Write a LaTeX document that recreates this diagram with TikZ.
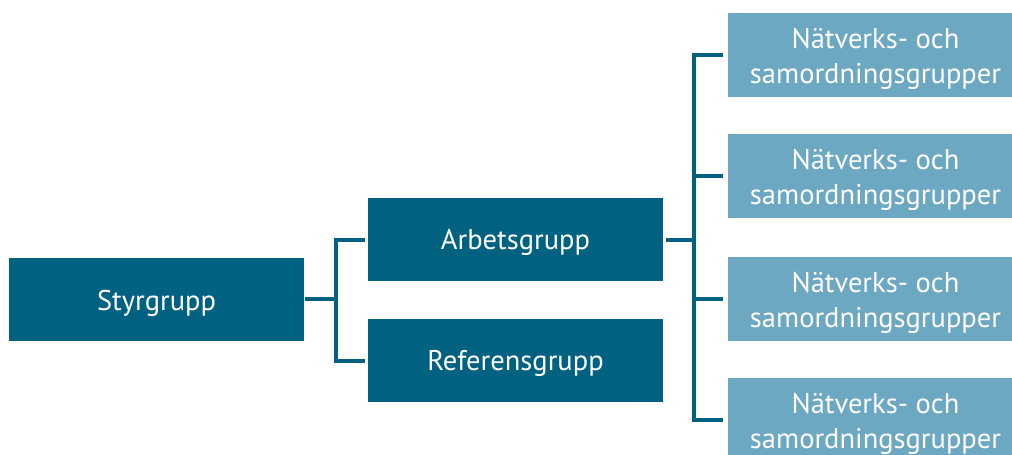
\documentclass[tikz,border=0pt]{standalone}
\usepackage{fontspec}
\setmainfont{PT Sans}
\definecolor{darkteal}{RGB}{0,97,128}
\definecolor{lightteal}{RGB}{108,168,194}
\newcommand{\lowered}[2]{\raisebox{-#1}[\height][\depth]{#2}}
\newcommand{\twoline}[2]{\lowered{4pt}{\begin{tabular}{@{}c@{}}#1\\#2\end{tabular}}}
\begin{document}
\begin{tikzpicture}[x=1pt,y=-1pt,
  darkbox/.style={fill=darkteal,draw=none,minimum width=295pt,minimum height=83pt,inner sep=0pt,text=white,font=\fontsize{28.5}{35}\selectfont,align=center},
  lightbox/.style={fill=lightteal,draw=none,minimum width=295pt,minimum height=84pt,inner sep=0pt,text=white,font=\fontsize{28.5}{35}\selectfont,align=center},
  conn/.style={draw=darkteal,line width=4pt,line join=miter,line cap=butt}]
\useasboundingbox (0,0) rectangle (1012,455);
\node[darkbox] (sty) at (156.5,299) {\lowered{4pt}{Styrgrupp}};
\node[darkbox] (arb) at (515.5,239.5) {\lowered{3pt}{Arbetsgrupp}};
\node[darkbox] (ref) at (515.5,360.5) {\lowered{3pt}{Referensgrupp}};
\node[lightbox] (n1) at (875.5,55) {\twoline{Nätverks- och}{samordningsgrupper}};
\node[lightbox] (n2) at (875.5,176) {\twoline{Nätverks- och}{samordningsgrupper}};
\node[lightbox] (n3) at (875.5,298.5) {\twoline{Nätverks- och}{samordningsgrupper}};
\node[lightbox] (n4) at (875.5,419.5) {\twoline{Nätverks- och}{samordningsgrupper}};
\coordinate (jl) at (336,299);
\coordinate (jr) at (694,239.5);
\draw[conn,shorten <=1pt] (sty.east) -- (jl);
\draw[conn,shorten <=3pt,shorten >=3pt] (arb.west) -| (jl) |- (ref.west);
\draw[conn,shorten <=3pt] (arb.east) -- (jr);
\draw[conn,shorten <=5pt,shorten >=5pt] (n1.west) -| (jr) |- (n4.west);
\draw[conn,shorten >=5pt] (jr) |- (n2.west);
\draw[conn,shorten >=5pt] (jr) |- (n3.west);
\end{tikzpicture}
\end{document}
